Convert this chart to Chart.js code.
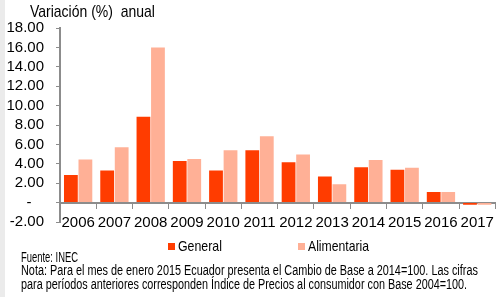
<!DOCTYPE html>
<html>
<head>
<meta charset="utf-8">
<script src="https://cdn.jsdelivr.net/npm/chart.js@4.4.1/dist/chart.umd.min.js"></script>
<style>
  html, body { margin:0; padding:0; background:#fff; }
  #wrap { position:relative; width:500px; height:297px; overflow:hidden; background:#fff; }
  #strip { position:absolute; left:0; top:0; width:5px; height:297px; background:#ebebeb; }
  canvas { position:absolute; left:0; top:0; }
  .txt { position:absolute; white-space:nowrap; color:#000; transform-origin:0 50%;
         font-family:'Liberation Sans Narrow','Liberation Sans',Arial,sans-serif; }
  .box { position:absolute; width:7px; height:7px; }
</style>
</head>
<body>
<div id="wrap">
  <div id="strip"></div>
  <canvas id="c" width="500" height="297"></canvas>
  <div id="title" class="txt" style="left:30px; top:2.5px; font-size:17px; line-height:17px;" data-w="125">Variación (%)&nbsp;&nbsp;anual</div>
  <div id="legend"></div>
  <div class="txt" style="left:21px; top:249.5px; font-size:14px; line-height:14px;" data-w="57">Fuente: INEC</div>
  <div class="txt" style="left:21px; top:263px; font-size:14px; line-height:14px;" data-w="457">Nota: Para el mes de enero 2015 Ecuador presenta el Cambio de Base a 2014=100. Las cifras</div>
  <div class="txt" style="left:21px; top:277px; font-size:14px; line-height:14px;" data-w="446">para períodos anteriores corresponden Índice de Precios al consumidor con Base 2004=100.</div>
</div>
<script>
const years = ['2006','2007','2008','2009','2010','2011','2012','2013','2014','2015','2016','2017'];
const general = [2.85, 3.30, 8.85, 4.30, 3.30, 5.40, 4.15, 2.70, 3.65, 3.38, 1.10, -0.22];
const alimentaria = [4.45, 5.70, 16.00, 4.50, 5.40, 6.85, 4.95, 1.90, 4.40, 3.60, 1.10, -0.22];
const seriesNames = ['General', 'Alimentaria'];
const seriesColors = ['#ff3c00', '#ffb096'];
const yMin = -2, yMax = 18, yStep = 2;

const FONT = "'Liberation Sans Narrow','Liberation Sans',Arial,sans-serif";
Chart.defaults.font.family = FONT;
Chart.defaults.font.size = 15;
Chart.defaults.color = '#000';
const axisGray = '#8c8c8c';

const chart = new Chart(document.getElementById('c'), {
  type: 'bar',
  data: {
    labels: years,
    datasets: [
      { label: seriesNames[0], data: general, backgroundColor: seriesColors[0], borderWidth: 0 },
      { label: seriesNames[1], data: alimentaria, backgroundColor: seriesColors[1], borderWidth: 0 }
    ]
  },
  options: {
    responsive: false,
    animation: false,
    devicePixelRatio: 1,
    layout: { padding: { left: 5, right: 2, top: 28, bottom: 75 } },
    datasets: { bar: { categoryPercentage: 0.8, barPercentage: 0.95 } },
    plugins: { legend: { display: false }, tooltip: { enabled: false } },
    scales: {
      y: {
        min: yMin, max: yMax,
        ticks: {
          stepSize: yStep,
          autoSkip: false,
          padding: 12,
          font: { size: 15 },
          callback: v => v === 0 ? '-   ' : v.toFixed(2)
        },
        grid: { drawOnChartArea: false, drawTicks: true, tickLength: 4, color: axisGray },
        border: { color: axisGray, width: 2 },
        afterFit: s => { s.width = 55; }
      },
      x: {
        position: { y: 0 },
        grid: { offset: true, drawOnChartArea: false, drawTicks: true, tickLength: 5, color: axisGray },
        border: { color: axisGray, width: 2 },
        ticks: { padding: 6, maxRotation: 0, autoSkip: false, font: { size: 15 } },
        afterFit: s => { s.height = 0; }
      }
    }
  }
});

// Legend built from the chart's datasets
const legend = document.getElementById('legend');
const legendPos = [{ bx: 168, tx: 178, w: 44 }, { bx: 298, tx: 308, w: 61 }];
chart.data.datasets.forEach((ds, i) => {
  const b = document.createElement('div');
  b.className = 'box';
  b.style.left = legendPos[i].bx + 'px';
  b.style.top = '242.5px';
  b.style.background = ds.backgroundColor;
  legend.appendChild(b);
  const t = document.createElement('div');
  t.className = 'txt';
  t.style.left = legendPos[i].tx + 'px';
  t.style.top = '237.5px';
  t.style.fontSize = '15px';
  t.style.lineHeight = '15px';
  t.dataset.w = legendPos[i].w;
  t.textContent = ds.label;
  legend.appendChild(t);
});

// fit text widths to the reference
document.querySelectorAll('.txt[data-w]').forEach(el => {
  const w = el.getBoundingClientRect().width;
  const target = parseFloat(el.dataset.w);
  if (w > 0) el.style.transform = 'scaleX(' + (target / w).toFixed(3) + ')';
});
</script>
</body>
</html>
